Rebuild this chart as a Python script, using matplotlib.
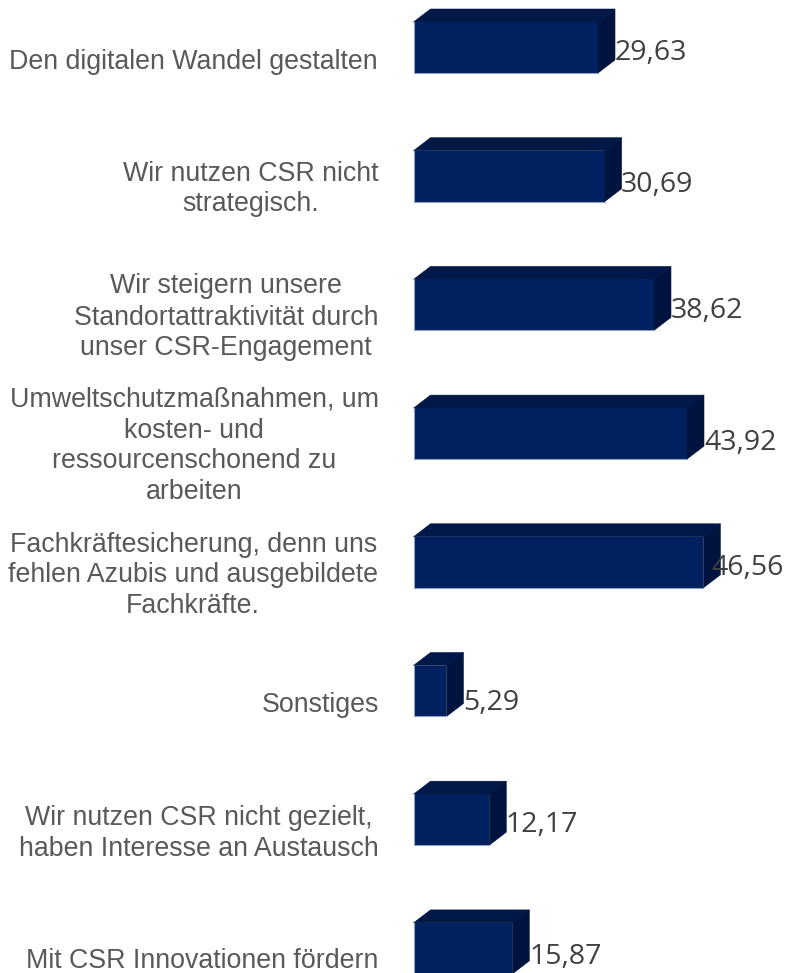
import matplotlib
matplotlib.use("Agg")
import matplotlib.pyplot as plt

categories = [
    ["Den digitalen Wandel gestalten"],
    ["Wir nutzen CSR nicht", "strategisch."],
    ["Wir steigern unsere", "Standortattraktivität durch", "unser CSR-Engagement"],
    ["Umweltschutzmaßnahmen, um", "kosten- und", "ressourcenschonend zu", "arbeiten"],
    ["Fachkräftesicherung, denn uns", "fehlen Azubis und ausgebildete", "Fachkräfte."],
    ["Sonstiges"],
    ["Wir nutzen CSR nicht gezielt,", "haben Interesse an Austausch"],
    ["Mit CSR Innovationen fördern"],
]
values = [29.63, 30.69, 38.62, 43.92, 46.56, 5.29, 12.17, 15.87]
value_labels = ["29,63", "30,69", "38,62", "43,92", "46,56", "5,29", "12,17", "15,87"]

# Layout in pixels
W, H = 787, 973
PX_PER_UNIT = 6.227
X0 = 413.5
ROW = 128.7
FIRST_CENTER = 47.5
BAR_H_PX = 51
DX, DY = 17, 13
label_dx = [0, -1, 0, 0, -9, 0, -1, 0]
label_dy = [12.5, 16, 13, 16, 13, 18.5, 12, 16]
# horizontal centre (px) of each text line, and its vertical centre (px)
line_cx = [[193.5], [251, 250.5], [226, 226, 226], [194.5, 194, 194, 194],
           [193.5, 193, 193], [320], [198.5, 198.5], [202.5]]
line_cy = [[62], [174, 204], [286, 318, 348], [400, 431, 461, 492],
           [545, 575, 606], [705], [818, 849], [961]]

FRONT, TOP, SIDE, EDGE = "#00205f", "#001848", "#00133f", "#8f9fbd"
TXT, VAL = "#595959", "#404040"

fig = plt.figure(figsize=(W / 100, H / 100), dpi=100, facecolor="white")
ax = fig.add_axes([0, 0, 1, 1])
ax.set_xlim(-X0 / PX_PER_UNIT, (W - X0) / PX_PER_UNIT)
ax.set_ylim((H - FIRST_CENTER) / ROW, -FIRST_CENTER / ROW)
ax.axis("off")

h = BAR_H_PX / ROW / 2
dx = DX / PX_PER_UNIT
dy = DY / ROW
for i, v in enumerate(values):
    ax.fill([0, dx, v + dx, v], [i - h, i - h - dy, i - h - dy, i - h], fc=TOP, ec=TOP, lw=0.4, zorder=2)
    ax.fill([v, v + dx, v + dx, v], [i - h, i - h - dy, i + h - dy, i + h], fc=SIDE, ec=SIDE, lw=0.4, zorder=2)
    ax.barh(i, v, height=2 * h, left=0, color=FRONT, linewidth=0, zorder=2.5)
    ax.plot([0, 0, v], [i - h, i + h, i + h], color=EDGE, lw=0.8, zorder=3)
    ax.text(v + dx + label_dx[i] / PX_PER_UNIT, i + label_dy[i] / ROW, value_labels[i],
            ha="left", va="baseline", fontsize=20.5, family="Open Sans", color=VAL, zorder=4)

for lines, cxs, cys in zip(categories, line_cx, line_cy):
    for line, cx, cy in zip(lines, cxs, cys):
        ax.text((cx - X0) / PX_PER_UNIT, (cy - FIRST_CENTER) / ROW, line, ha="center", va="center",
                fontsize=19.3, family="Liberation Sans", color=TXT)

fig.savefig("out.png", dpi=100)
